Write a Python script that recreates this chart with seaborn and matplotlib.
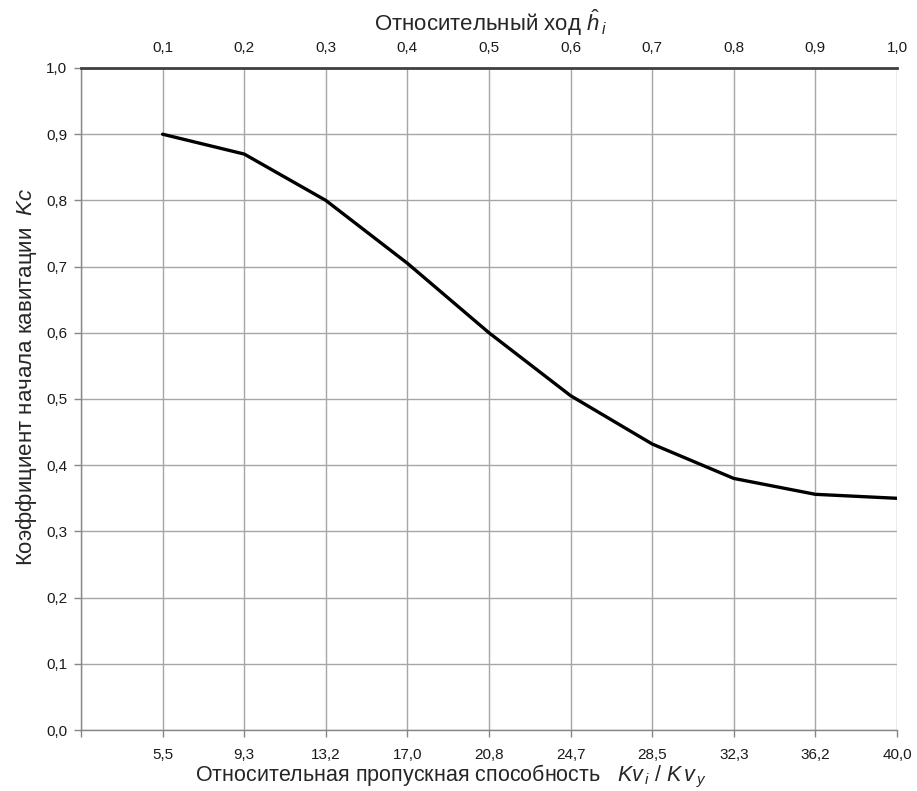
import matplotlib
matplotlib.use("Agg")
import matplotlib.pyplot as plt
import seaborn as sns
import pandas as pd

# Data
rel_travel = [0.1, 0.2, 0.3, 0.4, 0.5, 0.6, 0.7, 0.8, 0.9, 1.0]
kc_values = [0.90, 0.87, 0.80, 0.705, 0.60, 0.505, 0.432, 0.38, 0.356, 0.35]
capacity_labels = ["5,5", "9,3", "13,2", "17,0", "20,8", "24,7", "28,5", "32,3", "36,2", "40,0"]
travel_labels = ["0,1", "0,2", "0,3", "0,4", "0,5", "0,6", "0,7", "0,8", "0,9", "1,0"]
y_ticks = [0.0, 0.1, 0.2, 0.3, 0.4, 0.5, 0.6, 0.7, 0.8, 0.9, 1.0]
y_labels = ["0,0", "0,1", "0,2", "0,3", "0,4", "0,5", "0,6", "0,7", "0,8", "0,9", "1,0"]

sns.set_style("white", {"xtick.bottom": True, "ytick.left": True})
plt.rcParams["font.family"] = ["Liberation Sans", "DejaVu Sans"]
plt.rcParams["mathtext.fontset"] = "custom"
plt.rcParams["mathtext.rm"] = "Liberation Sans"
plt.rcParams["mathtext.it"] = "Liberation Sans:italic"

df = pd.DataFrame({"travel": rel_travel, "kc": kc_values})

fig = plt.figure(figsize=(9.17, 7.91), dpi=100)
ax = fig.add_axes([81/917, 1 - 730/791, (897-81)/917, (730-68)/791])

sns.lineplot(data=df, x="travel", y="kc", ax=ax, color="black", linewidth=2.4)

ax.set_xlim(0, 1.0)
ax.set_ylim(0, 1.0)

ax.set_xticks([0.0] + rel_travel)
ax.set_xticklabels([""] + capacity_labels, fontsize=11, color="#1a1a1a")
ax.set_yticks(y_ticks)
ax.set_yticklabels(y_labels, fontsize=11, color="#1a1a1a")
ax.tick_params(axis="both", length=5, width=1, color="#868686")
ax.tick_params(axis="y", pad=5)
ax.tick_params(axis="x", pad=8)

ax.grid(True, color="#a6a6a6", linewidth=1)
ax.set_axisbelow(True)
ax.set_xlabel("")
ax.set_ylabel("")

for s in ["left", "bottom"]:
    ax.spines[s].set_color("#868686")
    ax.spines[s].set_linewidth(1)
ax.spines["right"].set_visible(False)
ax.spines["top"].set_color("#404040")
ax.spines["top"].set_linewidth(2)

sec = ax.secondary_xaxis("top")
sec.set_xticks(rel_travel)
sec.set_xticklabels(travel_labels, fontsize=11, color="#1a1a1a")
sec.tick_params(length=0, pad=9)
for s in sec.spines.values():
    s.set_visible(False)

fig.text(490/917, 1 - 23/791, r"Относительный ход $\hat{h}$$_{\,i}$", ha="center", va="center", fontsize=16)
fig.text(451/917, 1 - 781/791,
         r"Относительная пропускная способность   $Kv_{\,i}$ / $K\,v_{\,y}$",
         ha="center", va="baseline", fontsize=15.5)
fig.text(27/917, 1 - 377/791, r"Коэффициент начала кавитации  $Kc$",
         ha="center", va="center", rotation=90, fontsize=16)

fig.savefig("out.png", dpi=100)
